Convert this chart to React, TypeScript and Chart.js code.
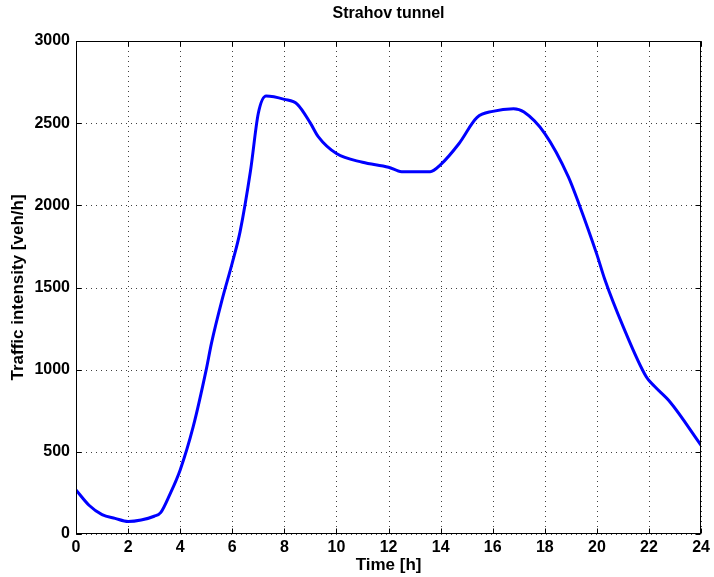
import React, { useEffect, useRef } from "react";
import { Chart, registerables } from "chart.js";

Chart.register(...registerables);

const hours = [0, 0.5, 1, 1.5, 2, 2.5, 3, 3.25, 3.6, 4, 4.5, 5, 5.2, 5.6, 6, 6.3, 6.7, 7, 7.3, 8, 8.5, 9, 9.3, 10, 11, 12, 12.5, 13, 13.6, 14, 14.7, 15.4, 16, 16.8, 17.2, 18, 18.9, 19.3, 20, 20.3, 21, 21.9, 22.2, 22.8, 24];
const intensity = [268, 175, 118, 95, 76, 85, 108, 130, 240, 390, 653, 1000, 1160, 1420, 1650, 1840, 2210, 2560, 2665, 2645, 2615, 2500, 2418, 2315, 2262, 2232, 2205, 2205, 2205, 2248, 2375, 2535, 2572, 2588, 2568, 2437, 2175, 2013, 1700, 1550, 1265, 955, 900, 805, 540];

const titleText = "Strahov tunnel";
const xTitle = "Time [h]";
const yTitle = "Traffic intensity [veh/h]";
const xMin = 0, xMax = 24, xStep = 2;
const yMin = 0, yMax = 3000, yStep = 500;

const FONT = "'Liberation Sans', Arial, Helvetica, sans-serif";

const boxPlugin = {
  id: "matlabBox",
  beforeDatasetsDraw(chart: any) {
    const { ctx, chartArea: a, scales } = chart;
    ctx.save();
    ctx.strokeStyle = "rgba(0,0,0,0.75)";
    ctx.lineWidth = 1;
    ctx.setLineDash([1, 4]);
    scales.x.ticks.forEach((t: any) => {
      const px = Math.round(scales.x.getPixelForValue(t.value)) + 0.5;
      ctx.beginPath();
      ctx.moveTo(px, a.top);
      ctx.lineTo(px, a.bottom);
      ctx.stroke();
    });
    scales.y.ticks.forEach((t: any) => {
      const py = Math.round(scales.y.getPixelForValue(t.value)) + 0.5;
      ctx.beginPath();
      ctx.moveTo(a.left, py);
      ctx.lineTo(a.right, py);
      ctx.stroke();
    });
    ctx.restore();
  },
  afterDatasetsDraw(chart: any) {
    const { ctx, chartArea: a, scales } = chart;
    ctx.save();
    ctx.strokeStyle = "#000";
    ctx.lineWidth = 1;
    ctx.setLineDash([]);
    const L = Math.round(a.left) + 0.5, R = Math.round(a.right) - 0.5;
    const T = Math.round(a.top) + 0.5, B = Math.round(a.bottom) - 0.5;
    ctx.strokeRect(L, T, R - L, B - T);
    const tl = 5;
    ctx.beginPath();
    scales.x.ticks.forEach((t: any) => {
      const px = Math.round(scales.x.getPixelForValue(t.value)) + 0.5;
      ctx.moveTo(px, B);
      ctx.lineTo(px, B - tl);
      ctx.moveTo(px, T);
      ctx.lineTo(px, T + tl);
    });
    scales.y.ticks.forEach((t: any) => {
      const py = Math.round(scales.y.getPixelForValue(t.value)) + 0.5;
      ctx.moveTo(L, py);
      ctx.lineTo(L + tl, py);
      ctx.moveTo(R, py);
      ctx.lineTo(R - tl, py);
    });
    ctx.stroke();
    ctx.restore();
  },
};

export default function App() {
  const ref = useRef<HTMLCanvasElement>(null);
  useEffect(() => {
    if (!ref.current) return;
    const chart = new Chart(ref.current, {
      type: "line",
      data: {
        datasets: [
          {
            data: hours.map((h, i) => ({ x: h, y: intensity[i] })),
            borderColor: "#0000ff",
            borderWidth: 3,
            pointRadius: 0,
            fill: false,
            cubicInterpolationMode: "monotone",
          },
        ],
      },
      options: {
        animation: false,
        responsive: false,
        layout: { padding: { left: 0, right: 12, top: 0, bottom: 0 } },
        plugins: {
          legend: { display: false },
          tooltip: { enabled: false },
          title: {
            display: true,
            text: titleText,
            fullSize: false,
            color: "#000",
            font: { family: FONT, size: 16, weight: "bold", lineHeight: 1.2 },
            padding: { top: 4, bottom: 17.8 },
          },
        },
        scales: {
          x: {
            type: "linear",
            min: xMin,
            max: xMax,
            grid: { display: false, drawTicks: false },
            border: { display: false },
            ticks: {
              stepSize: xStep,
              color: "#000",
              padding: 4,
              maxRotation: 0,
              callback: (v: any) => String(v),
              font: { family: FONT, size: 16, weight: "bold" },
            },
            title: {
              display: true,
              text: xTitle,
              color: "#000",
              font: { family: FONT, size: 17, weight: "bold" },
              padding: { top: 0, bottom: 1 },
            },
            afterFit(scale: any) {
              scale.height = 43;
            },
          },
          y: {
            min: yMin,
            max: yMax,
            grid: { display: false, drawTicks: false },
            border: { display: false },
            ticks: {
              stepSize: yStep,
              color: "#000",
              padding: 6,
              callback: (v: any) => String(v),
              font: { family: FONT, size: 16, weight: "bold" },
            },
            title: {
              display: true,
              text: yTitle,
              color: "#000",
              font: { family: FONT, size: 17, weight: "bold" },
              padding: { top: 8, bottom: 0 },
            },
            afterFit(scale: any) {
              scale.width = 76;
            },
          },
        },
      },
      plugins: [boxPlugin],
    });
    return () => chart.destroy();
  }, []);
  return (
    <canvas
      ref={ref}
      width={714}
      height={577}
      style={{ position: "absolute", left: 0, top: 0, width: 714, height: 577, background: "#fff" }}
    />
  );
}
